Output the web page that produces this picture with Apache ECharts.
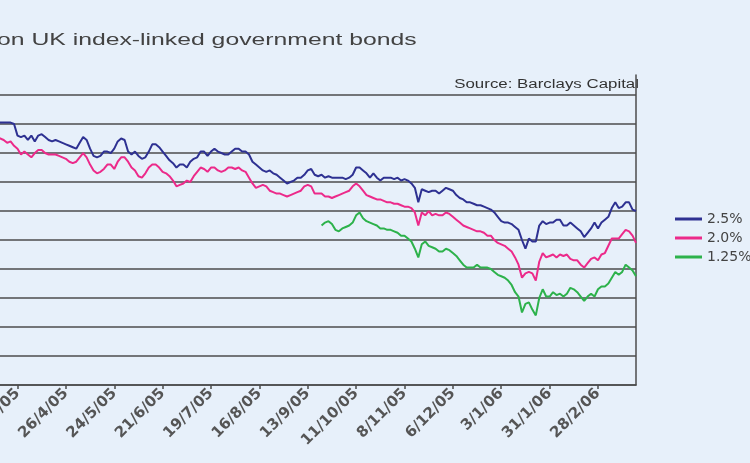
<!DOCTYPE html>
<html><head><meta charset="utf-8">
<script src="https://cdn.jsdelivr.net/npm/echarts@6/dist/echarts.min.js"></script>
<style>html,body{margin:0;padding:0;background:#e7f0fa}#c{width:750px;height:463px}</style>
</head><body><div id="c"></div>
<script>
// Axis: one category every 2 calendar days from 7 Mar 2005
const startYear = 2005, startMonth = 3, startDay = 7;
const stepDays = 2;
const pointCount = 191;
const tickLabels = ['29/3/05','26/4/05','24/5/05','21/6/05','19/7/05','16/8/05','13/9/05','11/10/05','8/11/05','6/12/05','3/1/06','31/1/06','28/2/06'];
const seriesNames = ['2.5%','2.0%','1.25%'];
const titleText = 'on UK index-linked government bonds';
const sourceText = 'Source: Barclays Capital';

const yield25 = [
1.81,1.81,1.82,1.81,1.81,1.81,1.81,1.81,1.81,1.81,1.80,
1.72,1.71,1.72,1.69,1.72,1.68,1.72,1.73,1.71,1.69,
1.68,1.69,1.68,1.67,1.66,1.65,1.64,1.63,1.67,1.71,
1.69,1.63,1.58,1.57,1.58,1.61,1.61,1.60,1.63,1.68,
1.70,1.69,1.61,1.59,1.61,1.58,1.56,1.57,1.61,1.66,
1.66,1.64,1.61,1.58,1.55,1.53,1.50,1.52,1.52,1.50,
1.54,1.56,1.57,1.61,1.61,1.58,1.61,1.63,1.61,1.60,
1.59,1.59,1.61,1.63,1.63,1.61,1.61,1.59,1.54,1.52,
1.50,1.48,1.47,1.48,1.46,1.45,1.43,1.41,1.39,1.40,
1.41,1.43,1.43,1.45,1.48,1.49,1.45,1.44,1.45,1.43,
1.44,1.43,1.43,1.43,1.43,1.42,1.43,1.45,1.50,1.50,
1.48,1.46,1.43,1.46,1.43,1.41,1.43,1.43,1.43,1.42,
1.43,1.41,1.42,1.41,1.39,1.36,1.26,1.35,1.34,1.33,
1.34,1.34,1.32,1.34,1.36,1.35,1.34,1.31,1.29,1.28,
1.26,1.26,1.25,1.24,1.24,1.23,1.22,1.21,1.19,1.16,
1.13,1.12,1.12,1.11,1.09,1.07,1.00,0.94,1.01,0.99,
0.99,1.10,1.13,1.11,1.12,1.12,1.14,1.14,1.10,1.10,
1.12,1.10,1.08,1.06,1.02,1.05,1.08,1.12,1.08,1.12,
1.14,1.16,1.22,1.26,1.22,1.23,1.26,1.26,1.21,1.20
];
const yield20 = [
1.71,1.70,1.72,1.71,1.70,1.71,1.70,1.69,1.67,1.68,1.65,
1.63,1.59,1.61,1.59,1.57,1.60,1.62,1.62,1.60,1.59,
1.59,1.59,1.58,1.57,1.56,1.54,1.53,1.54,1.57,1.60,
1.57,1.52,1.48,1.46,1.47,1.49,1.52,1.52,1.49,1.54,
1.57,1.57,1.54,1.50,1.48,1.44,1.43,1.46,1.50,1.52,
1.52,1.50,1.47,1.46,1.44,1.41,1.37,1.38,1.39,1.41,
1.40,1.44,1.47,1.50,1.49,1.47,1.50,1.50,1.48,1.47,
1.48,1.50,1.50,1.49,1.50,1.48,1.47,1.43,1.39,1.36,
1.37,1.38,1.37,1.34,1.33,1.32,1.32,1.31,1.30,1.31,
1.32,1.33,1.34,1.37,1.38,1.37,1.32,1.32,1.32,1.30,
1.30,1.29,1.30,1.31,1.32,1.33,1.34,1.37,1.39,1.37,
1.34,1.31,1.30,1.29,1.28,1.28,1.27,1.26,1.26,1.25,
1.25,1.24,1.23,1.23,1.22,1.19,1.10,1.19,1.17,1.20,
1.17,1.18,1.17,1.17,1.19,1.18,1.16,1.14,1.12,1.10,
1.09,1.08,1.07,1.06,1.06,1.05,1.03,1.03,1.00,0.98,
0.97,0.96,0.94,0.92,0.88,0.83,0.74,0.77,0.78,0.77,
0.72,0.85,0.91,0.88,0.89,0.90,0.88,0.90,0.89,0.90,
0.87,0.86,0.86,0.83,0.81,0.84,0.87,0.88,0.86,0.90,
0.91,0.96,1.01,1.01,1.01,1.04,1.07,1.06,1.03,0.98
];
const green125Start = '21/9/05';
const yield125 = [
1.10,1.12,
1.13,1.11,1.07,1.06,1.08,1.09,1.10,1.12,1.17,1.19,
1.15,1.13,1.12,1.11,1.10,1.08,1.08,1.07,1.07,1.06,
1.05,1.03,1.03,1.01,0.99,0.94,0.88,0.97,0.99,0.96,
0.95,0.94,0.92,0.92,0.94,0.93,0.91,0.89,0.86,0.83,
0.81,0.81,0.81,0.83,0.81,0.81,0.81,0.80,0.78,0.76,
0.75,0.74,0.72,0.69,0.64,0.61,0.50,0.56,0.57,0.52,
0.48,0.60,0.66,0.61,0.61,0.64,0.62,0.63,0.61,0.63,
0.67,0.66,0.64,0.61,0.58,0.61,0.63,0.61,0.66,0.68,
0.68,0.70,0.74,0.78,0.76,0.78,0.83,0.81,0.79,0.75
];

const categories = [];
for (let i = 0; i < pointCount; i++) {
  const d = new Date(Date.UTC(startYear, startMonth - 1, startDay + i * stepDays));
  categories.push(d.getUTCDate() + '/' + (d.getUTCMonth() + 1) + '/' + String(d.getUTCFullYear()).slice(2));
}
const gStart = categories.indexOf(green125Start);
const greenData = categories.map((c, i) => i < gStart ? '-' : yield125[i - gStart]);
const showTick = (idx, val) => tickLabels.indexOf(val) >= 0;

const chart = echarts.init(document.getElementById('c'), null, {renderer: 'canvas'});
const gridColor = '#4c4c4c';
chart.setOption({
  backgroundColor: '#e7f0fa',
  animation: false,
  grid: {left: -20.5, right: 114, top: 75, bottom: 78, containLabel: false, outerBoundsMode: 'none'},
  xAxis: {
    type: 'category', data: categories, boundaryGap: false,
    axisLine: {show: true, lineStyle: {color: gridColor, width: 1.5}},
    axisTick: {show: true, interval: showTick, length: 4, lineStyle: {color: gridColor, width: 1.5}},
    axisLabel: {interval: showTick, rotate: 45, margin: 6, color: '#555', fontFamily: 'DejaVu Sans', fontWeight: 'bold', fontSize: 15, hideOverlap: false},
    splitLine: {show: false}
  },
  yAxis: [{
    type: 'value', min: 0, max: 2.138, interval: 0.2,
    axisLine: {show: false}, axisTick: {show: false}, axisLabel: {show: false},
    splitLine: {show: true, showMaxLine: false, lineStyle: {color: gridColor, width: 1.7}}
  }, {
    type: 'value', position: 'right', min: 0, max: 1,
    axisLine: {show: true, lineStyle: {color: gridColor, width: 1.5}},
    axisTick: {show: false}, axisLabel: {show: false}, splitLine: {show: false}
  }],
  legend: {
    orient: 'vertical', left: 670, top: 207, itemWidth: 27, itemHeight: 3, itemGap: 5,
    icon: 'rect', data: seriesNames,
    textStyle: {fontFamily: 'DejaVu Sans', fontSize: 14, color: '#444', lineHeight: 14}
  },
  graphic: [
    {type: 'text', x: -3, y: 40, scaleX: 1.5, style: {text: titleText, font: '16.5px "Liberation Sans", Arial, sans-serif', fill: '#434343', textVerticalAlign: 'middle'}},
    {type: 'text', x: 639, y: 85, scaleX: 1.35, style: {text: sourceText, font: '12.5px "Liberation Sans", Arial, sans-serif', fill: '#333', textAlign: 'right', textVerticalAlign: 'middle'}}
  ],
  series: [
    {name: seriesNames[0], type: 'line', data: yield25, symbol: 'none', lineStyle: {color: '#2e3192', width: 2}, itemStyle: {color: '#2e3192'}},
    {name: seriesNames[1], type: 'line', data: yield20, symbol: 'none', lineStyle: {color: '#ec2a8a', width: 2}, itemStyle: {color: '#ec2a8a'}},
    {name: seriesNames[2], type: 'line', data: greenData, symbol: 'none', lineStyle: {color: '#2db24b', width: 2}, itemStyle: {color: '#2db24b'}}
  ]
});
</script></body></html>
